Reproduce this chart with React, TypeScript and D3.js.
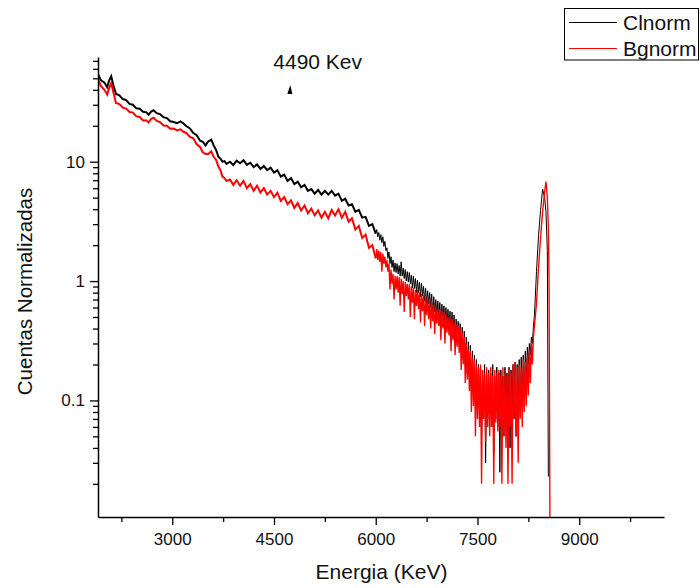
import React, { useEffect, useRef } from 'react';
import * as d3 from 'd3';

// Energia (KeV) channels
const energia = [
  1905, 1950, 2000, 2040, 2070, 2100, 2130, 2170, 2220, 2270,
  2320, 2370, 2420, 2470, 2520, 2570, 2620, 2650, 2690, 2724,
  2770, 2820, 2870, 2920, 2970, 3020, 3070, 3120, 3160, 3210,
  3260, 3310, 3360, 3410, 3450, 3490, 3530, 3575, 3610, 3645,
  3680, 3710, 3740, 3770, 3800,
  3850, 3900, 3950, 4000, 4050, 4100, 4150, 4200, 4250, 4300,
  4350, 4400, 4450, 4500, 4550, 4600, 4650, 4700, 4750, 4800,
  4850, 4900, 4950, 5000, 5050, 5100, 5150, 5200, 5250, 5300,
  5350, 5400, 5450, 5500, 5550, 5600, 5650, 5700, 5750, 5800,
  5850, 5900, 5950, 6000,
  6015, 6030, 6045, 6060, 6075, 6090, 6105, 6120, 6135, 6150,
  6165, 6180, 6195, 6210, 6225, 6240, 6255, 6270, 6285, 6300,
  6315, 6330, 6345, 6360, 6375, 6390, 6405, 6420, 6435, 6450,
  6465, 6480, 6495, 6510, 6525, 6540, 6555, 6570, 6585, 6600,
  6615, 6630, 6645, 6660, 6675, 6690, 6705, 6720, 6735, 6750,
  6765, 6780, 6795, 6810, 6825, 6840, 6855, 6870, 6885, 6900,
  6915, 6930, 6945, 6960, 6975, 6990, 7005, 7020, 7035, 7050,
  7065, 7080, 7095, 7110, 7125, 7140, 7155, 7170, 7185, 7200,
  7215, 7230, 7245, 7260, 7275, 7290, 7305, 7320, 7335, 7350,
  7365, 7380, 7395, 7410, 7425, 7440, 7455, 7470, 7485, 7500,
  7515, 7530, 7545, 7560, 7575, 7590, 7605, 7620, 7635, 7650,
  7665, 7680, 7695, 7710, 7725, 7740, 7755, 7770, 7785, 7800,
  7815, 7830, 7845, 7860, 7875, 7890, 7905, 7920, 7935, 7950,
  7965, 7980, 7995, 8010, 8025, 8040, 8055, 8070, 8085, 8100,
  8115, 8130, 8145, 8160, 8175, 8190, 8205, 8220, 8235, 8250,
  8265, 8280, 8295, 8310, 8325, 8340,
  8370, 8400, 8430, 8460, 8490, 8510, 8530, 8545, 8555, 8570,
];

const clnorm = [
  54, 48, 46, 42, 48, 52, 44, 37, 36, 33.5,
  32.8, 30.5, 30, 28, 27.8, 26.2, 25.9, 24.8, 26.3, 27,
  25.5, 25, 23.6, 23.2, 21.8, 21.5, 21, 21.8, 21, 19.8,
  19, 17.4, 16.7, 15, 14.7, 13.7, 14.8, 15.3, 13.7, 12.6,
  11, 10.6, 10, 10.1, 9.6,
  10.0, 9.4, 10.2, 9.7, 10.3, 9.4, 9.8, 9.0, 9.5, 8.7,
  9.2, 8.5, 8.9, 8.1, 8.5, 7.5, 7.8, 6.9, 7.3, 6.5,
  6.8, 6.1, 6.4, 5.7, 5.9, 5.4, 5.8, 5.3, 5.7, 5.3,
  5.7, 5.2, 5.4, 4.7, 4.9, 4.3, 4.4, 3.8, 3.95, 3.4,
  3.45, 2.9, 3.0, 2.5,
  2.7, 2.35, 2.55, 2.2, 2.45, 2.1, 2.35, 1.95, 2.15, 1.8,
  1.9, 1.55, 1.75, 1.4, 1.6, 1.3, 1.5, 1.2, 1.42, 1.18,
  1.4, 1.15, 1.35, 1.1, 1.45, 1.1, 1.28, 1.05, 1.25, 1.0,
  1.2, 0.98, 1.18, 0.95, 1.12, 0.88, 1.1, 0.87, 1.05, 0.8,
  1.02, 0.8, 0.98, 0.74, 0.96, 0.75, 0.9, 0.68, 0.87, 0.65,
  0.83, 0.64, 0.8, 0.6, 0.78, 0.52, 0.74, 0.55, 0.7, 0.52,
  0.68, 0.5, 0.66, 0.42, 0.64, 0.47, 0.62, 0.44, 0.6, 0.43,
  0.58, 0.4, 0.56, 0.36, 0.55, 0.37, 0.52, 0.3, 0.48, 0.32,
  0.46, 0.3, 0.44, 0.26, 0.41, 0.22, 0.38, 0.2, 0.34, 0.17,
  0.31, 0.16, 0.29, 0.12, 0.26, 0.1, 0.24, 0.085, 0.22, 0.07,
  0.2, 0.08, 0.19, 0.05, 0.18, 0.075, 0.2, 0.03, 0.17, 0.07,
  0.18, 0.06, 0.17, 0.08, 0.2, 0.035, 0.16, 0.07, 0.19, 0.06,
  0.17, 0.025, 0.18, 0.07, 0.16, 0.05, 0.19, 0.075, 0.17, 0.06,
  0.19, 0.04, 0.18, 0.08, 0.2, 0.07, 0.21, 0.05, 0.2, 0.08,
  0.22, 0.09, 0.23, 0.1, 0.24, 0.11, 0.26, 0.14, 0.28, 0.2,
  0.3, 0.24, 0.34, 0.3, 0.42, 0.52,
  1.2, 2.4, 3.9, 5.9, 5.0, 3.8, 1.8, 0.023, null, null,
];

const bgnorm = [
  49, 43, 40, 36.5, 41.5, 45.5, 38.5, 31, 30.4, 28.4,
  27.9, 26.1, 25.8, 24, 23.7, 22.2, 22.2, 21.3, 22.9, 23.4,
  22, 21.5, 20.1, 20, 18.9, 19, 18.3, 18.7, 17.9, 17.4,
  16.1, 15.7, 14, 13.3, 12, 11.6, 11.6, 12.2, 11, 10.4,
  9.1, 8.5, 7.5, 7.3, 6.9,
  7.1, 6.4, 7.0, 6.3, 6.9, 6.0, 6.5, 5.7, 6.3, 5.5,
  6.0, 5.3, 5.7, 5.05, 5.5, 4.7, 5.05, 4.4, 4.75, 4.1,
  4.5, 3.9, 4.3, 3.7, 4.05, 3.55, 3.9, 3.4, 3.8, 3.35,
  3.95, 3.55, 4.0, 3.4, 3.8, 3.15, 3.35, 2.7, 2.9, 2.3,
  2.45, 1.9, 2.0, 1.55,
  1.85, 1.5, 1.8, 1.45, 1.75, 1.2, 1.7, 1.4, 1.6, 1.3,
  1.5, 1.2, 1.4, 0.85, 1.25, 0.95, 1.15, 0.7, 1.1, 0.85,
  1.1, 0.8, 1.08, 0.62, 1.05, 0.78, 1.0, 0.55, 0.98, 0.75,
  0.95, 0.7, 0.94, 0.5, 0.9, 0.66, 0.88, 0.48, 0.84, 0.62,
  0.84, 0.58, 0.8, 0.45, 0.78, 0.56, 0.76, 0.42, 0.72, 0.52,
  0.7, 0.48, 0.68, 0.4, 0.66, 0.46, 0.63, 0.36, 0.6, 0.44,
  0.58, 0.42, 0.58, 0.32, 0.56, 0.4, 0.55, 0.3, 0.53, 0.37,
  0.5, 0.35, 0.5, 0.26, 0.48, 0.32, 0.45, 0.24, 0.43, 0.28,
  0.42, 0.25, 0.4, 0.18, 0.37, 0.2, 0.34, 0.14, 0.3, 0.15,
  0.27, 0.12, 0.26, 0.08, 0.23, 0.09, 0.22, 0.05, 0.2, 0.07,
  0.19, 0.06, 0.2, 0.02, 0.18, 0.07, 0.17, 0.045, 0.19, 0.06,
  0.17, 0.05, 0.19, 0.06, 0.16, 0.02, 0.18, 0.065, 0.17, 0.055,
  0.18, 0.06, 0.16, 0.02, 0.19, 0.05, 0.17, 0.04, 0.16, 0.02,
  0.18, 0.06, 0.17, 0.02, 0.2, 0.07, 0.21, 0.05, 0.19, 0.03,
  0.2, 0.07, 0.19, 0.06, 0.22, 0.08, 0.21, 0.09, 0.24, 0.11,
  0.26, 0.14, 0.3, 0.2, 0.34, 0.42,
  0.65, 1.3, 2.3, 3.8, 5.6, 6.8, 5.0, 2.8, 1.1, 0.005,
];

const seriesNames = ['Clnorm', 'Bgnorm'];
const seriesColors = ['#000000', '#ff0000'];
const noisyStroke = [1, 1.35];
const xTicks = [3000, 4500, 6000, 7500, 9000];
const xMinorTicks = [2250, 3750, 5250, 6750, 8250, 9750];
const yTicks = [0.1, 1, 10];
const annotation = { energy: 4490, label: '4490 Kev' };
// below this energy the counts are high and the trace looks like a thick band
const noisyFrom = 6000;

const FONT = '"Liberation Sans", Arial, sans-serif';

type Pt = { e: number; v: number | null };

const App = () => {
  const svgRef = useRef<SVGSVGElement>(null);

  useEffect(() => {
    const svg = d3.select(svgRef.current);
    svg.selectAll('*').remove();

    const left = 98;
    const right = 664;
    const top = 57;
    const bottom = 517;

    const x = d3.scaleLinear().domain([1905, 10250]).range([left, right]);
    const y = d3.scaleLog().domain([0.01055, 75.4]).range([bottom, top]);

    svg
      .append('defs')
      .append('clipPath')
      .attr('id', 'plot-clip')
      .append('rect')
      .attr('x', left)
      .attr('y', top)
      .attr('width', right - left)
      .attr('height', bottom - top);

    const line = d3
      .line<Pt>()
      .defined((d) => d.v != null)
      .x((d) => x(d.e))
      .y((d) => y(d.v as number));

    // Series
    const plot = svg.append('g').attr('clip-path', 'url(#plot-clip)');
    [clnorm, bgnorm].forEach((values, i) => {
      const pts: Pt[] = energia.map((e, j) => ({ e, v: values[j] as number | null }));
      plot
        .append('path')
        .datum(pts.filter((d) => d.e <= noisyFrom))
        .attr('fill', 'none')
        .attr('stroke', seriesColors[i])
        .attr('stroke-width', 2)
        .attr('d', line);
      plot
        .append('path')
        .datum(pts.filter((d) => d.e >= noisyFrom))
        .attr('fill', 'none')
        .attr('stroke', seriesColors[i])
        .attr('stroke-width', noisyStroke[i])
        .attr('d', line);
    });

    // Y axis: minor ticks
    const minorY = y.ticks().filter((t) => !yTicks.includes(+t.toPrecision(6)));
    svg
      .append('g')
      .attr('transform', `translate(${left},0)`)
      .call(d3.axisLeft(y).tickValues(minorY).tickSize(5).tickSizeOuter(0).tickFormat(() => ''))
      .call((g) => g.select('.domain').remove())
      .selectAll('line')
      .attr('stroke-width', 1.3);

    const yAxis = svg
      .append('g')
      .attr('transform', `translate(${left},0)`)
      .call(
        d3
          .axisLeft(y)
          .tickValues(yTicks)
          .tickSize(8)
          .tickSizeOuter(0)
          .tickPadding(5)
          .tickFormat((d) => String(d))
      );
    yAxis.select('.domain').attr('stroke-width', 1.5);
    yAxis.selectAll('line').attr('stroke-width', 1.3);
    yAxis.selectAll('text').style('font-family', FONT).style('font-size', '17px').attr('fill', '#111');

    // X axis
    svg
      .append('g')
      .attr('transform', `translate(0,${bottom})`)
      .call(d3.axisBottom(x).tickValues(xMinorTicks).tickSize(5).tickSizeOuter(0).tickFormat(() => ''))
      .call((g) => g.select('.domain').remove())
      .selectAll('line')
      .attr('stroke-width', 1.3);

    const xAxis = svg
      .append('g')
      .attr('transform', `translate(0,${bottom})`)
      .call(
        d3
          .axisBottom(x)
          .tickValues(xTicks)
          .tickSize(8)
          .tickSizeOuter(0)
          .tickPadding(8)
          .tickFormat((d) => String(d))
      );
    xAxis.select('.domain').attr('stroke-width', 1.5);
    xAxis.selectAll('line').attr('stroke-width', 1.3);
    xAxis.selectAll('text').style('font-family', FONT).style('font-size', '17px').attr('fill', '#111');

    // Axis titles
    svg
      .append('text')
      .attr('x', (left + right) / 2 + 0.5)
      .attr('y', 579)
      .attr('text-anchor', 'middle')
      .style('font-family', FONT)
      .style('font-size', '21px')
      .attr('fill', '#111')
      .text('Energia (KeV)');

    svg
      .append('text')
      .attr('transform', 'translate(32,291.5) rotate(-90)')
      .attr('text-anchor', 'middle')
      .style('font-family', FONT)
      .style('font-size', '20.5px')
      .attr('fill', '#111')
      .text('Cuentas Normalizadas');

    // Annotation
    const ax = x(annotation.energy);
    svg
      .append('text')
      .attr('x', ax)
      .attr('y', 69)
      .style('font-family', FONT)
      .style('font-size', '21px')
      .attr('fill', '#111')
      .text(annotation.label);
    svg
      .append('path')
      .attr('d', `M${ax + 17},85 L${ax + 14},94 L${ax + 19},94 Z`)
      .attr('fill', '#000');

    // Legend
    const legend = svg.append('g');
    legend
      .append('rect')
      .attr('x', 564.5)
      .attr('y', 8.5)
      .attr('width', 134)
      .attr('height', 51.5)
      .attr('fill', '#fff')
      .attr('stroke', '#000')
      .attr('stroke-width', 1);
    seriesNames.forEach((name, i) => {
      const ly = 22.5 + i * 26;
      legend
        .append('line')
        .attr('x1', 569)
        .attr('x2', 617)
        .attr('y1', ly)
        .attr('y2', ly)
        .attr('stroke', seriesColors[i])
        .attr('stroke-width', 1);
      legend
        .append('text')
        .attr('x', 623)
        .attr('y', ly + 7)
        .style('font-family', FONT)
        .style('font-size', '21px')
        .attr('fill', '#111')
        .text(name);
    });
  }, []);

  return (
    <svg
      ref={svgRef}
      width={700}
      height={588}
      style={{ position: 'absolute', left: 0, top: 0, background: '#fff' }}
    />
  );
};

export default App;
